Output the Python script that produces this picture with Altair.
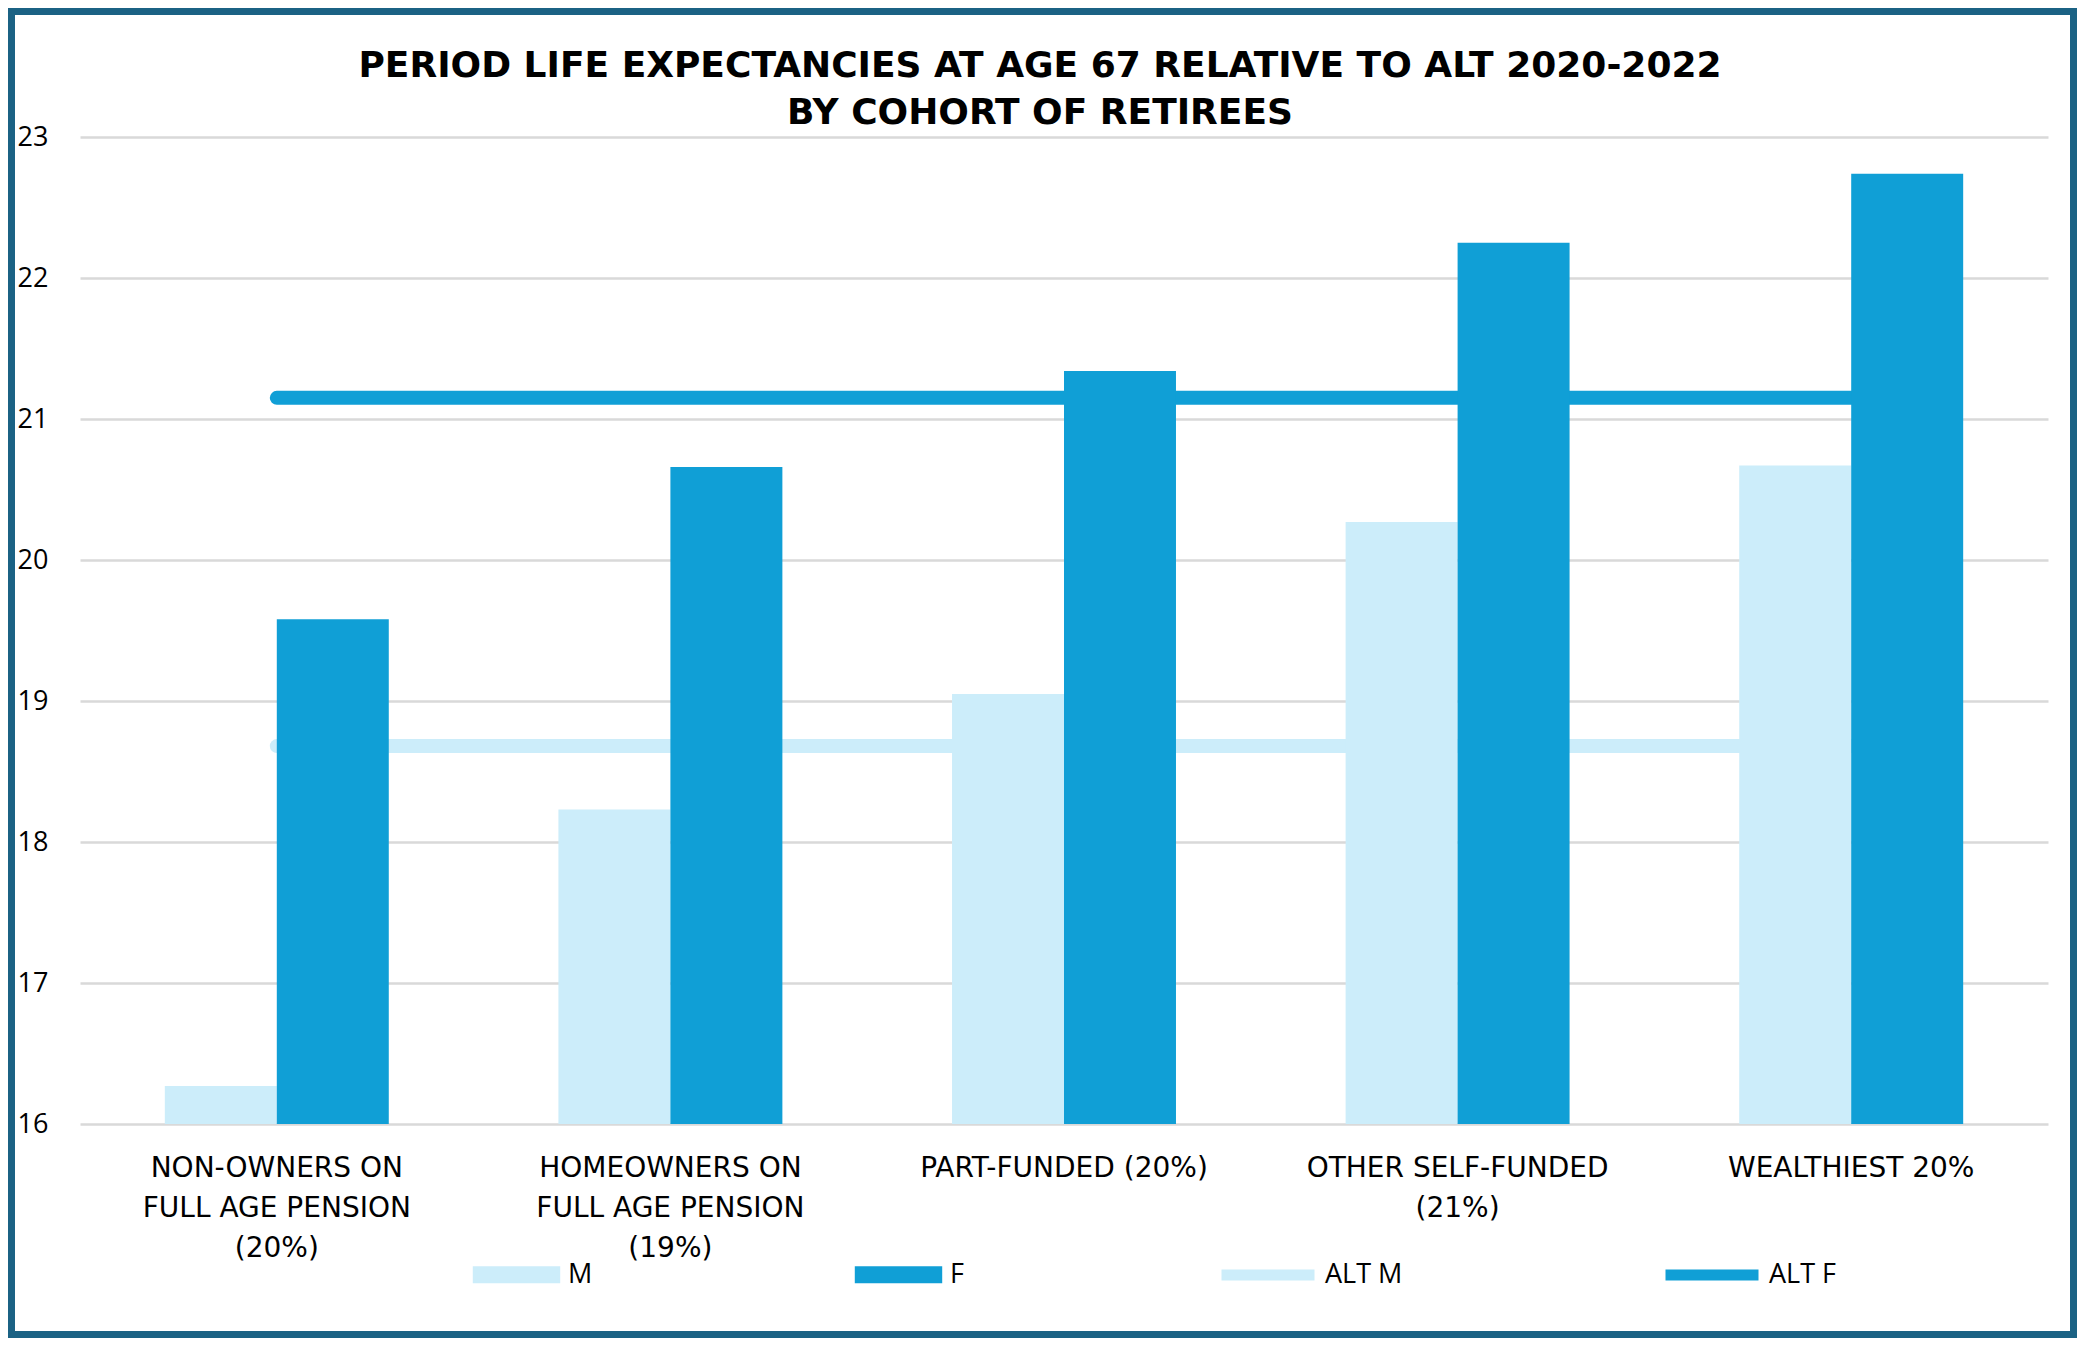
import altair as alt
import pandas as pd

# ---------------- data ----------------
cohorts = [
    "NON-OWNERS ON|FULL AGE PENSION|(20%)",
    "HOMEOWNERS ON|FULL AGE PENSION|(19%)",
    "PART-FUNDED (20%)",
    "OTHER SELF-FUNDED|(21%)",
    "WEALTHIEST 20%",
]
male = [16.27, 18.23, 19.05, 20.27, 20.67]
female = [19.58, 20.66, 21.34, 22.25, 22.74]
alt_male = [18.68, 18.68, 18.68, 18.68, 18.68]
alt_female = [21.15, 21.15, 21.15, 21.15, 21.15]
bar_series = ["M", "F"]
bar_colors = ["#CCEDFA", "#109FD6"]
line_series = ["ALT M", "ALT F"]
line_colors = ["#CCEDFA", "#109FD6"]
y_ticks = [16, 17, 18, 19, 20, 21, 22, 23]
title_lines = [
    "PERIOD LIFE EXPECTANCIES AT AGE 67 RELATIVE TO ALT 2020-2022",
    "BY COHORT OF RETIREES",
]

bars_df = pd.DataFrame(
    [{"cohort": c, "series": "M", "value": v} for c, v in zip(cohorts, male)]
    + [{"cohort": c, "series": "F", "value": v} for c, v in zip(cohorts, female)]
)
lines_df = pd.DataFrame(
    [{"cohort": c, "series": "ALT M", "value": v} for c, v in zip(cohorts, alt_male)]
    + [{"cohort": c, "series": "ALT F", "value": v} for c, v in zip(cohorts, alt_female)]
)

# ---------------- layout ----------------
W, H = 1968, 987
PAD = {"left": 72, "top": 129, "right": 29, "bottom": 214}
BORDER = "#1B6284"
BW = 7

x_scale = alt.Scale(domain=cohorts, paddingInner=0.431, paddingOuter=0.2155)
y_scale = alt.Scale(domain=[16, 23], zero=False, nice=False)
color_scale = alt.Scale(domain=bar_series, range=bar_colors)
stroke_scale = alt.Scale(domain=line_series, range=line_colors)

x_axis = alt.Axis(
    title=None,
    labelExpr="split(datum.label, '|')",
    labelAngle=0,
    labelFont="DejaVu Sans",
    labelFontSize=28,
    labelColor="#000000",
    labelLineHeight=40,
    labelPadding=30,
    labelLimit=500,
    labelBaseline="top",
    domain=False,
    ticks=False,
    grid=False,
)
y_axis = alt.Axis(
    title=None,
    values=y_ticks,
    labelFont="Open Sans",
    labelFontSize=27,
    labelColor="#000000",
    labelPadding=32,
    domain=False,
    ticks=False,
    grid=True,
    gridColor="#D9D9D9",
    gridWidth=2.5,
)

RECT_PATH = "M-0.94,-0.183 L0.94,-0.183 L0.94,0.183 L-0.94,0.183 Z"
LINE_PATH = "M-1,0 L1,0"

common_legend = dict(
    title=None,
    orient="none",
    direction="horizontal",
    columns=2,
    symbolSize=8649,
    symbolOpacity=1,
    labelFont="Open Sans",
    labelFontSize=27,
    labelColor="#000000",
    labelOffset=5,
    padding=0,
)

bar_legend = alt.Legend(
    legendX=390,
    legendY=1091,
    columnPadding=259,
    symbolType=RECT_PATH,
    symbolStrokeWidth=0,
    **common_legend,
)
line_legend = alt.Legend(
    legendX=1136,
    legendY=1086,
    columnPadding=240,
    symbolType=LINE_PATH,
    symbolStrokeWidth=11,
    **common_legend,
)

frame = alt.Chart(alt.Data(values=[{"k": 1}])).mark_rect(
    fill="transparent", stroke=BORDER, strokeWidth=BW
).encode(
    x=alt.value(-PAD["left"] + BW / 2),
    x2=alt.value(W + PAD["right"] - BW / 2),
    y=alt.value(-PAD["top"] + BW / 2),
    y2=alt.value(H + PAD["bottom"] - BW / 2),
)

lines = alt.Chart(lines_df).mark_line(strokeWidth=14, strokeCap="round").encode(
    x=alt.X("cohort:N", sort=cohorts, scale=x_scale, axis=x_axis),
    y=alt.Y("value:Q", scale=y_scale, axis=y_axis),
    stroke=alt.Stroke("series:N", scale=stroke_scale, legend=line_legend),
    detail="series:N",
)

bars = alt.Chart(bars_df).mark_bar(clip=True).encode(
    x=alt.X("cohort:N", sort=cohorts, scale=x_scale, axis=x_axis),
    xOffset=alt.XOffset("series:N", sort=bar_series,
                        scale=alt.Scale(domain=bar_series, paddingInner=0, paddingOuter=0)),
    y=alt.Y("value:Q", scale=y_scale, axis=y_axis),
    color=alt.Color("series:N", scale=color_scale, legend=bar_legend),
)

chart = alt.layer(frame, lines, bars).properties(
    width=W,
    height=H,
    padding=PAD,
    autosize=alt.AutoSizeParams(type="none"),
    title=alt.Title(
        title_lines,
        font="DejaVu Sans",
        fontSize=36,
        fontWeight="bold",
        color="#000000",
        anchor="middle",
        dx=-24,
        offset=-124,
        lineHeight=47,
    ),
).configure_view(strokeWidth=0)

chart.save("out.html", embed_options={"renderer": "svg", "actions": False})
